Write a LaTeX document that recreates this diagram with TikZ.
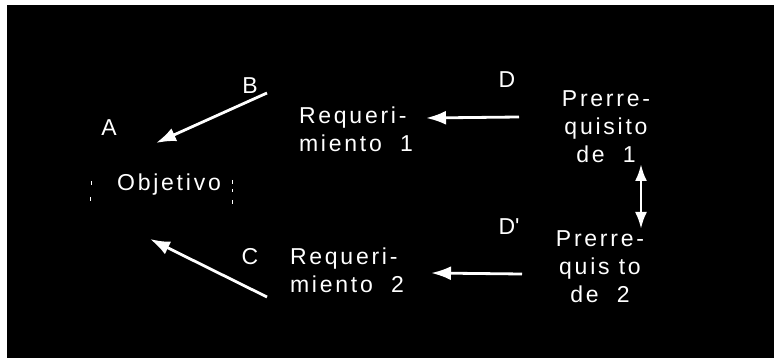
\documentclass[tikz,border=0pt]{standalone}
\usepackage{fontspec}
\setmainfont{Liberation Sans}[LetterSpace=12]
\usetikzlibrary{arrows.meta}
\begin{document}
\begin{tikzpicture}[x=1pt,y=-1pt,
  lbl/.style={text=white,font=\fontsize{23}{28}\selectfont,inner sep=0pt,align=center},
  arr/.style={draw=white,line width=2.8pt,-{Latex[length=20pt,width=14pt]}},
  dbl/.style={draw=white,line width=2.8pt,{Latex[length=17pt,width=12pt]}-{Latex[length=17pt,width=12pt]}},
  tick/.style={draw=white,line width=1pt}]
\useasboundingbox (0,0) rectangle (774,358);
\fill[white] (0,0) rectangle (774,358);
\fill[black] (7,5) rectangle (774,358);
% labels
\node[lbl] (A) at (109,128) {A};
\node[lbl] (B) at (250,86) {B};
\node[lbl] (C) at (250,257) {C};
\node[lbl] (D) at (507,80) {D};
\node[lbl] (Dp) at (509,227) {D\textquotesingle};
\node[lbl] (obj) at (169,185) {Objetivo};
\node[lbl,align=left] (req1) at (356,129) {Requeri-\\miento\ \ 1};
\node[lbl,align=left] (req2) at (347,270) {Requeri-\\miento\ \ 2};
\node[lbl] (pre1) at (606,127) {Prerre-\\quisito\\de\ \ 1};
\node[lbl] (pre2) at (600,267) {Prerre-\\quis to\\de\ \ 2};
% faint bracket marks around the objective
\draw[tick] (91,181) -- (91,185) (90,197) -- (90,201);
\draw[tick] (232,180) -- (232,184) (232,189) -- (232,192) (232,200) -- (232,204);
% arrow end points
\coordinate (bT) at (267,93);
\coordinate (bH) at (156,143);
\coordinate (cT) at (267,297);
\coordinate (cH) at (150,239);
\coordinate (dT) at (519,117);
\coordinate (dH) at (426,118);
\coordinate (eT) at (522,274);
\coordinate (eH) at (431,273);
\coordinate (uT) at (641,164);
\coordinate (uB) at (641,229);
% connectors
\draw[arr] (bT) -- (bH);
\draw[arr] (cT) -- (cH);
\draw[arr] (dT) -- (dH);
\draw[arr] (eT) -- (eH);
\draw[dbl] (uT) -- (uB);
\end{tikzpicture}
\end{document}
